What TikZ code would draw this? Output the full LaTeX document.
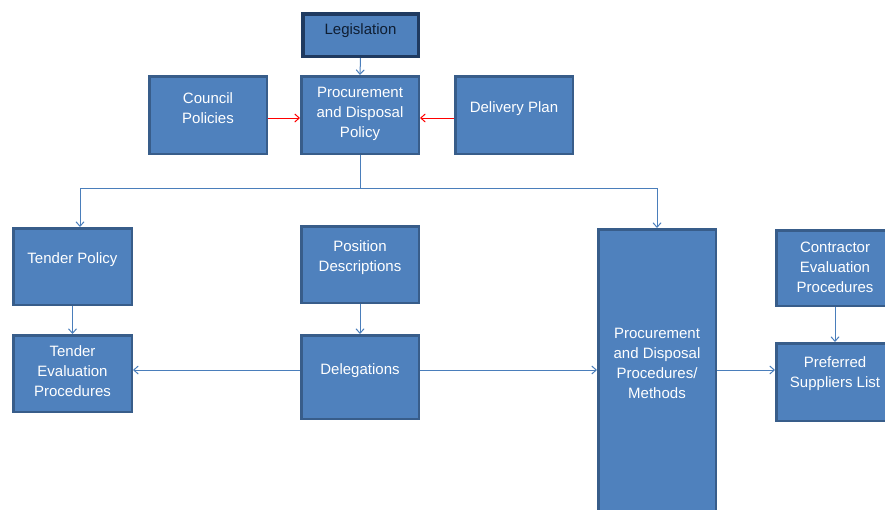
\documentclass[tikz,border=0pt]{standalone}
\usepackage{fontspec}
\setmainfont{Liberation Sans}
\usetikzlibrary{arrows.meta}

\definecolor{boxfill}{HTML}{4F81BD}
\definecolor{boxedge}{HTML}{385D8A}
\definecolor{lawedge}{HTML}{1F3A60}
\definecolor{lawtext}{HTML}{0F1E33}
\definecolor{linkblue}{HTML}{4A7EBB}

\tikzset{
	box/.style = {draw=boxedge, fill=boxfill, line width=2.5pt, inner sep=0pt,
		minimum width=117.5pt, minimum height=77.5pt},
	boxtext/.style = {text=white, align=center, inner sep=0pt,
		font=\fontsize{15}{20}\selectfont},
	link/.style = {draw=linkblue, line width=1pt, -{Straight Barb[length=4.5pt,width=8pt]}},
	feed/.style = {draw=red, line width=1pt, -{Straight Barb[length=4.5pt,width=8pt]}}
}

\begin{document}
\begin{tikzpicture}[x=1pt,y=-1pt]
		\useasboundingbox (0,0) rectangle (885,509);
		
		\node[box, draw=lawedge, line width=3.5pt, minimum width=115.5pt, minimum height=42.5pt,
			label={[boxtext, text=lawtext, yshift=4.5pt]center:Legislation}] (law) at (360.5,35) {};
		
		\node[box, label={[boxtext, yshift=1.5pt]center:{Procurement\\and Disposal\\Policy}}] (pdp) at (360,115) {};
		\node[box, label={[boxtext, yshift=6.5pt]center:{Council\\Policies}}] (council) at (208,115) {};
		\node[box, label={[boxtext, yshift=6.5pt]center:Delivery Plan}] (plan) at (514,115) {};
		
		\node[box, minimum width=118.5pt, minimum height=76.5pt,
			label={[boxtext, yshift=7pt]center:Tender Policy}] (tpol) at (72.5,266.5) {};
		\node[box, minimum height=76.5pt,
			label={[boxtext, yshift=7pt]center:{Position\\Descriptions}}] (posdesc) at (360,264.5) {};
		\node[box, minimum width=118.5pt, minimum height=76.5pt,
			label={[boxtext, yshift=2.5pt]center:{Tender\\Evaluation\\Procedures}}] (tep) at (72.5,373.5) {};
		\node[box, minimum height=83.5pt,
			label={[boxtext, yshift=6.5pt]center:Delegations}] (deleg) at (360,377) {};
		
		\node[box, minimum height=285.5pt,
			label={[boxtext, yshift=9pt]center:{Procurement\\and Disposal\\Procedures/\\Methods}}] (pdpm) at (657,372) {};
		
		\node[box, minimum height=75.5pt,
			label={[boxtext, yshift=1pt]center:{Contractor\\Evaluation\\Procedures}}] (contr) at (835,268) {};
		\node[box, label={[boxtext, yshift=8pt]center:{Preferred\\Suppliers List}}] (pref) at (835,382) {};
		
		\draw[link] (law.south) -- (pdp.north);
		\draw[feed] ([yshift=-3pt]council.east) -- ([yshift=-3pt]pdp.west);
		\draw[feed] ([yshift=-3pt]plan.west) -- ([yshift=-3pt]pdp.east);
		
		\draw[link] (pdp.south) -- ++(0,33) -| ([xshift=7.5pt]tpol.north);
		\draw[link] (pdp.south) -- ++(0,33) -| (pdpm.north);
		
		\draw[link] (tpol.south) -- (tep.north);
		\draw[link] (posdesc.south) -- (deleg.north);
		
		\draw[link] ([yshift=7pt]deleg.west) -- ([yshift=7pt]deleg.west -| tep.east);
		\draw[link] ([yshift=7pt]deleg.east) -- ([yshift=7pt]deleg.east -| pdpm.west);
		\draw[link] ([yshift=12pt]pref.west -| pdpm.east) -- ([yshift=12pt]pref.west);
		
		\draw[link] (contr.south) -- (pref.north);
		
	\end{tikzpicture}
\end{document}
